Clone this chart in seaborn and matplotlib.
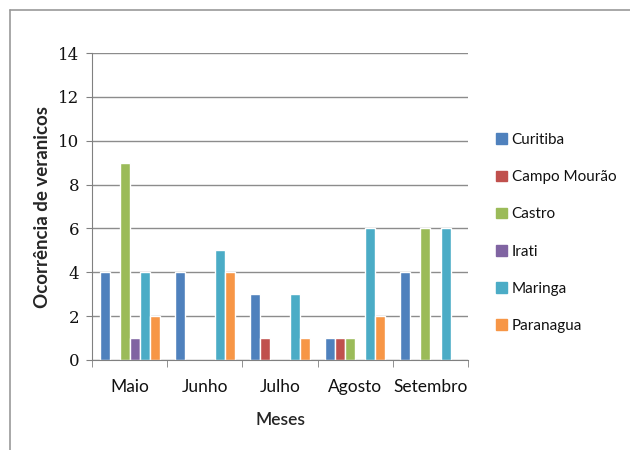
import matplotlib
matplotlib.use("Agg")
import matplotlib.pyplot as plt
import seaborn as sns
import pandas as pd
from matplotlib.lines import Line2D

months = ["Maio", "Junho", "Julho", "Agosto", "Setembro"]
cities = ["Curitiba", "Campo Mourão", "Castro", "Irati", "Maringa", "Paranagua"]
curitiba = [4, 4, 3, 1, 4]
campo_mourao = [0, 0, 1, 1, 0]
castro = [9, 0, 0, 1, 6]
irati = [1, 0, 0, 0, 0]
maringa = [4, 5, 3, 6, 6]
paranagua = [2, 4, 1, 2, 0]
y_ticks = [0, 2, 4, 6, 8, 10, 12, 14]
colors = ["#4F81BD", "#C0504D", "#9BBB59", "#8064A2", "#4BACC6", "#F79646"]

series = [curitiba, campo_mourao, castro, irati, maringa, paranagua]
rows = []
for c, vals in zip(cities, series):
    for m, v in zip(months, vals):
        rows.append({"Meses": m, "Cidade": c, "Valor": v})
df = pd.DataFrame(rows)

sns.set_style("white")
plt.rcParams["font.family"] = ["Lato", "DejaVu Sans"]
plt.rcParams["text.color"] = "#111111"
plt.rcParams["xtick.color"] = "#111111"
plt.rcParams["ytick.color"] = "#111111"

fig = plt.figure(figsize=(6.3, 4.5), dpi=100)
ax = fig.add_axes([0.146, 0.2, 0.597, 0.682])
sns.barplot(data=df, x="Meses", y="Valor", hue="Cidade", order=months,
            hue_order=cities, palette=colors, width=0.8, ax=ax, legend=False,
            saturation=1)

ax.set_ylim(0, 14)
ax.set_xlim(-0.5, 4.5)
ax.set_yticks(y_ticks)
ax.set_yticklabels([str(t) for t in y_ticks], family="DejaVu Serif", size=12)
ax.yaxis.grid(True, color="#8c8c8c", linewidth=1)
ax.set_axisbelow(True)
for s in ["top", "right"]:
    ax.spines[s].set_visible(False)
ax.spines["left"].set_color("#808080")
ax.spines["bottom"].set_color("#808080")
ax.tick_params(axis="y", length=4, color="#808080", pad=5, left=True)
ax.tick_params(axis="x", length=0, labelsize=12.5, pad=14)
ax.set_xticks([i + 0.5 for i in range(-1, 5)], minor=True)
ax.tick_params(axis="x", which="minor", length=5, color="#808080", bottom=True)
ax.set_xlabel("Meses", fontsize=12.5, fontweight="semibold", labelpad=12)
ax.set_ylabel("Ocorrência de veranicos", fontsize=13.5, fontweight="bold", labelpad=5)

handles = [plt.Rectangle((0, 0), 1, 1, color=col) for col in colors]
fig.legend(handles, cities, loc="upper left", bbox_to_anchor=(0.778, 0.718),
           frameon=False, fontsize=11, handlelength=0.7, handleheight=0.7,
           handletextpad=0.3, labelspacing=1.52, borderaxespad=0)

fig.add_artist(Line2D([0.016, 1.0], [0.978, 0.978], color="#999999", linewidth=1.2,
                      transform=fig.transFigure))
fig.add_artist(Line2D([0.016, 0.016], [0.0, 0.978], color="#999999", linewidth=1.2,
                      transform=fig.transFigure))

fig.savefig("out.png", dpi=100)
